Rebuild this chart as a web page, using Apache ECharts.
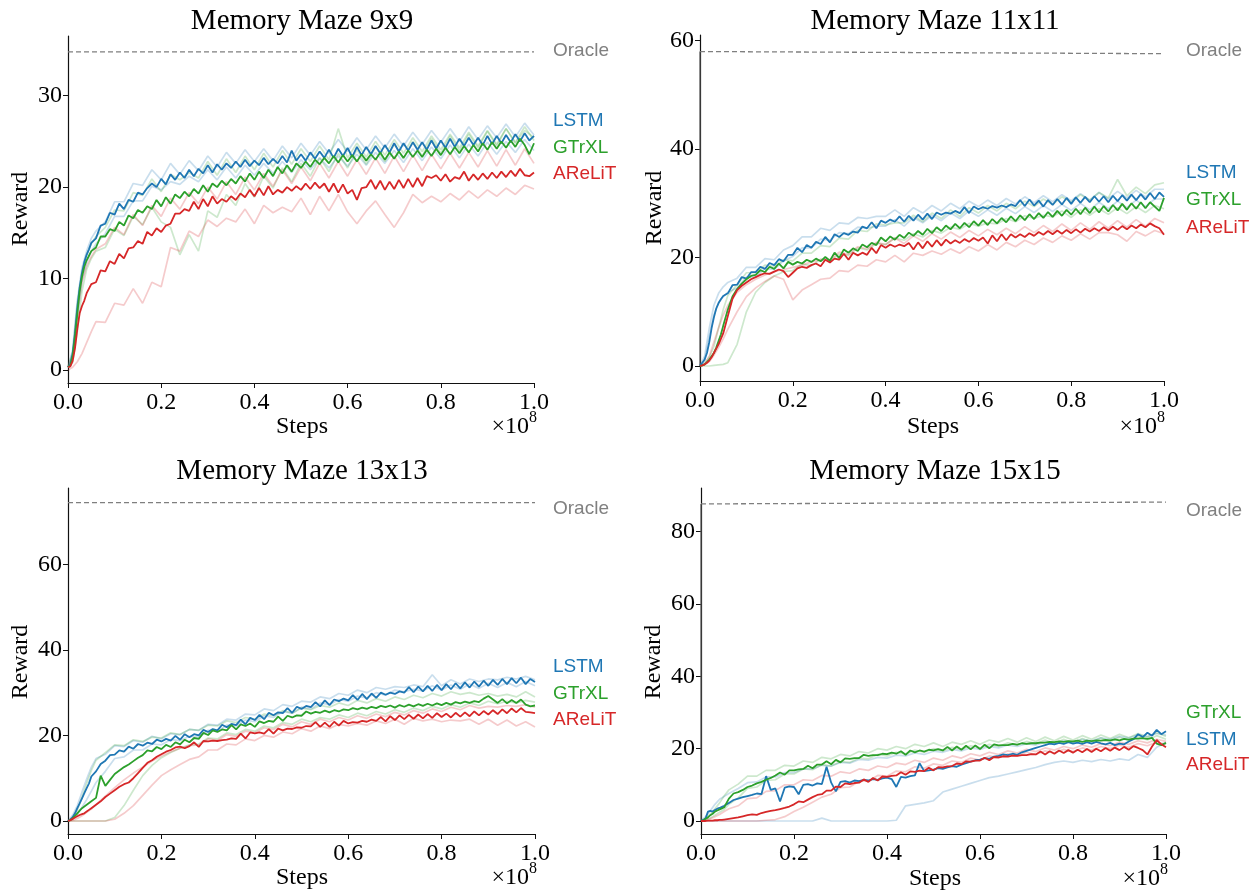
<!DOCTYPE html>
<html>
<head>
<meta charset="utf-8">
<script src="https://cdn.jsdelivr.net/npm/echarts@6.0.0/dist/echarts.min.js"></script>
<style>
html,body{margin:0;padding:0;background:#fff;}
#c{width:1253px;height:892px;}
</style>
</head>
<body>
<div id="c"></div>
<script>
// ---------- tick labels ----------
const X_TICKS = [0, 0.2, 0.4, 0.6, 0.8, 1.0];
const Y_TICKS_9 = [0, 10, 20, 30];
const Y_TICKS_11 = [0, 20, 40, 60];
const Y_TICKS_13 = [0, 20, 40, 60];
const Y_TICKS_15 = [0, 20, 40, 60, 80];
const TITLES = ["Memory Maze 9x9", "Memory Maze 11x11", "Memory Maze 13x13", "Memory Maze 15x15"];
const METHODS = ["LSTM", "GTrXL", "AReLiT"];

// ---------- x positions (steps, x1e8) ----------
const XM = [0,0.005,0.01,0.015,0.02,0.025,0.03,0.035,0.04,0.045,0.05,
0.06,0.07,0.08,0.09,0.10,0.11,0.12,0.13,0.14,0.15,
0.16,0.17,0.18,0.19,0.20,0.21,0.22,0.23,0.24,0.25,
0.26,0.27,0.28,0.29,0.30,0.31,0.32,0.33,0.34,0.35,
0.36,0.37,0.38,0.39,0.40,0.41,0.42,0.43,0.44,0.45,
0.46,0.47,0.48,0.49,0.50,0.51,0.52,0.53,0.54,0.55,
0.56,0.57,0.58,0.59,0.60,0.61,0.62,0.63,0.64,0.65,
0.66,0.67,0.68,0.69,0.70,0.71,0.72,0.73,0.74,0.75,
0.76,0.77,0.78,0.79,0.80,0.81,0.82,0.83,0.84,0.85,
0.86,0.87,0.88,0.89,0.90,0.91,0.92,0.93,0.94,0.95,
0.96,0.97,0.98,0.99,1.00];
const XF = [0,0.01,0.02,0.03,0.04,0.05,0.06,
0.08,0.10,0.12,0.14,0.16,0.18,0.20,0.22,0.24,0.26,
0.28,0.30,0.32,0.34,0.36,0.38,0.40,0.42,0.44,0.46,
0.48,0.50,0.52,0.54,0.56,0.58,0.60,0.62,0.64,0.66,
0.68,0.70,0.72,0.74,0.76,0.78,0.80,0.82,0.84,0.86,
0.88,0.90,0.92,0.94,0.96,0.98,1.00];

// ---------- Oracle ----------
const ORACLE_X = [0, 1];
const ORACLE_9 = [34.8, 34.8];
const ORACLE_11 = [58.0, 57.6];
const ORACLE_13 = [74.4, 74.4];
const ORACLE_15 = [87.7, 88.2];
const RISE_X = [0, 0];
const ORACLE_RISE_11 = [0, 58.0];
const ORACLE_RISE_15 = [0, 87.7];

// ---------- Memory Maze 9x9 ----------
const M9_LSTM = [0.3,0.6,1.8,4.0,6.8,9.0,10.6,11.8,12.6,13.2,13.9,
14.4,15.8,16.0,17.2,17.0,18.2,17.6,18.6,18.4,19.4,
19.2,19.9,20.4,20.0,20.9,20.3,21.4,20.8,21.6,21.0,
21.9,21.2,22.0,21.5,22.4,21.6,22.5,21.9,22.6,22.1,
22.8,22.2,23.0,22.3,22.9,22.4,23.2,22.5,23.1,22.6,
23.4,22.7,24.0,22.9,23.6,22.9,23.8,23.1,23.9,23.2,
24.1,23.2,24.2,23.4,24.3,23.3,24.4,23.5,24.4,23.6,
24.5,23.7,24.6,23.8,24.8,23.9,24.8,24.0,24.9,24.1,
24.9,24.1,25.1,24.2,25.1,24.3,25.3,24.4,25.3,24.5,
25.4,24.6,25.4,24.6,25.6,24.7,25.6,24.8,25.7,24.9,
25.8,25.0,25.9,25.1,25.6];
const M9_GTRXL = [0.3,0.5,1.5,3.6,6.2,8.6,10.2,11.3,12.0,12.5,13.0,
13.4,14.6,14.6,15.4,15.2,16.2,15.8,16.9,16.6,17.5,
17.2,17.9,17.6,18.6,17.9,18.9,18.2,19.2,18.8,19.5,
19.0,19.8,19.3,20.2,19.5,20.4,20.0,20.7,20.2,20.9,
20.4,21.2,20.6,21.5,20.8,21.7,21.0,21.9,21.2,22.2,
21.5,22.4,21.7,22.6,22.1,22.8,22.2,23.0,22.5,23.2,
22.6,23.4,22.7,23.5,22.8,23.5,22.8,23.6,22.9,23.6,
23.0,23.8,23.0,23.8,23.1,23.9,23.2,24.0,23.3,24.0,
23.3,24.1,23.4,24.2,23.5,24.3,23.6,24.4,23.7,24.5,
23.8,24.6,23.9,24.8,24.1,24.9,24.2,25.0,24.3,25.1,
24.4,25.3,24.6,23.6,24.8];
const M9_ARELIT = [0.3,0.4,1.0,2.4,4.5,6.2,7.0,7.6,8.4,8.9,9.4,
9.6,10.9,10.8,11.9,11.6,12.7,12.2,13.3,13.4,14.1,
13.8,15.1,14.7,15.5,15.1,15.8,16.0,17.1,17.1,17.6,
17.4,18.4,17.6,18.7,17.9,19.0,18.2,18.7,18.4,19.0,
18.6,19.3,18.9,19.7,19.0,19.9,19.1,20.1,19.2,19.7,
19.4,20.0,19.6,20.1,19.7,20.4,19.8,20.5,19.9,20.4,
19.5,20.4,19.4,20.3,19.3,19.7,18.6,19.9,20.0,20.8,
19.8,20.7,19.7,20.6,19.8,20.8,19.9,20.9,20.0,21.0,
20.1,21.2,21.0,21.3,20.7,21.4,20.6,21.1,20.9,21.7,
20.7,21.4,20.8,21.5,20.9,21.6,21.0,21.7,21.1,21.8,
21.2,22.0,21.3,21.2,21.6];
const M9_LSTM_SEEDS = [
[0.3,2.2,7.6,11.2,13.0,14.4,15.2,
16.2,18.4,18.4,20.4,20.2,21.9,20.8,22.6,21.4,22.9,
21.8,23.4,22.2,23.8,22.6,24.1,22.8,24.2,22.9,24.5,
23.2,24.8,23.5,25.0,23.7,25.2,23.9,25.4,24.1,25.6,
24.3,25.8,24.5,26.0,24.7,26.2,24.9,26.4,25.0,26.6,
25.2,26.7,25.4,26.9,25.5,27.0,25.7],
[0.3,1.4,5.8,9.8,11.8,13.0,13.8,
14.9,16.8,16.8,18.5,18.5,20.1,19.7,20.6,20.3,21.2,
20.6,21.9,20.8,22.2,21.0,22.4,21.3,22.6,21.5,22.8,
21.6,23.0,21.9,23.2,22.1,23.4,22.3,23.6,22.4,23.8,
22.6,24.0,22.7,24.2,22.9,24.4,23.1,24.6,23.2,24.7,
23.4,24.9,23.6,25.0,23.8,25.2,24.0]];
const M9_GTRXL_SEEDS = [
[0.3,2.0,7.2,10.8,12.6,13.8,14.6,
15.6,17.5,17.4,19.4,19.1,20.9,19.5,21.4,20.8,21.6,
21.0,22.8,21.3,23.1,21.6,23.4,21.9,23.7,22.2,24.0,
22.5,24.2,22.8,24.5,23.0,26.4,23.2,24.8,23.3,25.0,
23.5,25.2,23.7,25.4,23.9,25.6,24.1,25.8,24.3,26.0,
24.5,26.2,24.7,26.4,24.9,26.6,25.1],
[0.3,0.8,4.2,8.6,11.0,12.2,13.0,
13.4,15.4,14.7,16.8,15.9,17.8,16.2,15.6,12.6,14.8,
13.0,17.4,16.7,19.2,18.0,20.4,18.9,21.2,19.9,22.1,
20.6,22.6,21.2,23.2,21.7,23.7,22.1,24.1,22.5,24.4,
22.8,24.7,23.1,25.0,23.4,25.3,23.7,25.6,24.0,25.8,
24.3,26.1,24.5,26.4,24.8,26.2,25.4]];
const M9_ARELIT_SEEDS = [
[0.0,0.3,0.9,1.8,3.0,4.2,5.3,
5.2,7.3,7.1,8.9,7.3,9.6,9.1,13.4,13.0,15.2,
14.6,16.4,15.7,16.6,16.2,17.6,16.0,18.0,17.2,17.8,
17.3,18.8,17.0,19.0,17.4,19.2,17.3,16.0,17.4,18.5,
17.0,15.6,17.2,19.2,18.3,19.0,18.4,19.3,18.6,19.6,
18.8,19.7,19.0,19.9,19.2,20.2,19.8],
[0.3,1.6,6.0,9.6,11.4,12.4,13.2,
13.8,15.6,14.8,17.0,15.8,18.0,16.8,18.8,17.6,19.4,
18.2,20.0,18.7,20.6,19.2,21.1,19.7,21.5,20.1,21.9,
20.4,22.2,20.7,22.6,21.0,22.8,21.2,23.0,21.4,23.2,
21.5,23.4,21.7,23.5,21.8,23.6,22.0,23.7,22.1,23.8,
22.2,24.0,22.3,24.1,22.4,24.2,22.6]];

// ---------- Memory Maze 11x11 ----------
const M11_LSTM = [0.1,0.6,1.2,2.4,4.4,7.0,9.0,10.6,11.6,12.3,12.9,
13.4,14.9,15.0,16.4,16.1,17.3,17.3,18.3,17.9,19.0,
18.6,19.7,19.3,20.5,20.5,21.8,21.0,22.3,21.8,22.9,
22.5,23.8,22.8,24.3,23.8,24.5,24.2,24.8,24.6,25.7,
25.4,26.5,25.4,26.8,26.4,27.0,26.6,27.6,26.6,27.7,
26.8,27.9,27.0,28.1,27.1,28.3,27.9,28.3,28.1,28.6,
28.2,29.3,28.2,29.4,28.9,29.3,29.0,29.5,29.2,29.6,
29.3,29.8,29.5,30.6,29.5,30.7,29.6,30.5,29.4,30.6,
29.7,30.8,29.8,31.0,29.9,31.1,30.1,31.2,30.2,31.3,
30.3,31.3,30.2,31.4,30.4,31.5,30.5,31.6,30.6,31.7,
30.7,31.9,30.8,32.0,31.2];
const M11_GTRXL = [0,0.1,0.3,0.7,1.2,1.8,2.4,3.4,4.6,5.8,7.4,
10.4,12.8,14.2,15.2,16.0,16.6,16.8,17.7,17.3,18.3,
17.9,18.9,18.0,19.2,18.7,19.2,18.9,19.6,19.2,19.8,
19.3,20.1,19.4,20.9,19.9,21.5,20.9,21.7,21.2,22.4,
21.9,22.7,22.3,23.7,23.0,23.9,23.3,24.2,23.6,24.6,
24.0,24.9,24.2,25.3,24.5,25.6,24.9,25.9,25.2,26.2,
25.4,26.4,25.6,26.7,25.9,26.9,26.0,27.1,26.3,27.3,
26.5,27.6,26.7,27.8,26.9,28.0,27.1,28.2,27.3,28.4,
27.5,28.6,27.7,28.8,27.9,29.0,28.0,29.2,28.2,29.4,
28.3,29.5,28.5,29.7,28.7,29.9,28.8,30.0,29.0,30.2,
29.1,30.2,29.4,28.6,31.0];
const M11_ARELIT = [0,0.1,0.3,0.6,1.0,1.6,2.4,3.2,4.0,5.0,6.0,
9.2,12.4,14.0,14.8,15.4,16.0,16.4,16.8,17.1,17.0,
17.4,17.8,17.5,16.4,17.2,18.0,18.3,18.1,18.6,18.9,
18.4,19.6,19.1,19.8,19.6,20.7,19.6,20.9,20.4,20.9,
20.5,21.8,20.8,22.3,21.8,22.4,22.0,22.4,22.1,22.7,
21.5,22.8,21.7,23.0,22.0,23.2,22.2,23.3,22.6,23.2,
22.7,23.4,22.9,23.6,23.1,23.7,22.6,24.1,23.0,24.3,
23.2,24.3,23.7,24.3,23.8,24.5,24.0,24.7,24.2,24.9,
24.3,25.0,24.4,25.1,24.5,25.2,24.6,25.3,24.8,25.4,
24.9,25.6,25.0,25.7,25.1,25.8,25.2,25.9,25.4,26.1,
25.6,26.3,25.8,25.4,24.2];
const M11_LSTM_SEEDS = [
[0,1.8,7.0,11.2,13.4,14.6,15.4,
16.2,18.2,18.2,19.8,19.6,21.4,22.2,23.8,23.8,25.4,
25.0,26.4,26.2,27.4,27.2,27.6,27.6,28.8,27.6,29.2,
28.2,29.6,28.6,30.0,29.0,30.4,29.4,30.6,29.6,30.9,
29.9,31.2,30.1,31.4,30.3,31.6,30.5,31.8,30.6,32.0,
30.8,32.2,31.0,32.4,31.2,32.6,32.6],
[0,1.0,5.4,9.4,11.6,12.8,13.6,
14.4,16.4,16.4,18.0,17.8,19.4,20.2,21.8,21.8,23.4,
23.2,24.6,24.4,25.6,25.4,25.8,25.8,27.0,25.8,27.4,
26.4,27.8,26.8,28.2,27.2,28.6,27.6,28.8,27.8,29.1,
28.1,29.4,28.3,29.6,28.5,29.8,28.7,30.0,28.8,30.2,
29.0,30.4,29.2,30.6,29.4,30.8,30.8]];
const M11_GTRXL_SEEDS = [
[0,0.4,1.6,3.6,7.0,10.4,13.0,
15.0,17.2,17.2,18.6,18.4,19.6,19.4,20.8,20.8,22.2,
22.0,23.6,23.4,25.0,24.8,26.2,26.0,26.4,26.4,27.8,
26.6,28.2,27.2,28.8,27.6,29.2,28.2,29.6,28.6,30.0,
29.0,30.4,29.4,30.8,29.8,31.2,30.2,31.6,30.6,32.0,
31.0,34.4,31.4,33.0,31.8,33.4,33.8],
[0,0,0,0.1,0.2,0.3,0.6,
4.0,10.0,13.6,15.4,16.6,17.4,17.6,18.8,18.5,19.7,
19.4,20.6,20.4,21.8,21.4,22.6,22.4,23.6,23.2,24.4,
23.8,25.0,24.5,25.6,25.2,26.3,25.8,26.4,26.2,27.2,
26.6,27.7,27.2,27.8,27.5,28.6,27.4,28.8,27.8,29.0,
28.0,29.2,28.1,29.4,28.3,29.6,29.0]];
const M11_ARELIT_SEEDS = [
[0,0.2,0.8,2.0,3.4,5.0,6.8,
10.0,12.8,14.4,15.6,16.6,16.0,12.2,14.0,15.0,16.0,
16.2,17.6,17.4,18.6,18.4,19.6,19.2,20.4,19.2,20.8,
20.4,21.2,20.6,21.6,20.8,22.0,21.2,22.4,21.4,22.8,
22.0,23.2,22.4,23.6,22.8,24.0,23.2,24.4,23.4,24.6,
24.6,24.2,23.0,24.8,24.0,25.0,24.4],
[0,0.4,1.8,4.4,7.0,9.4,11.2,
13.6,15.0,16.0,16.8,17.4,17.8,18.2,18.6,19.2,19.6,
19.6,21.0,20.6,22.0,21.6,22.8,22.4,23.6,22.6,24.0,
23.0,24.4,23.4,24.7,23.7,25.0,24.0,25.2,24.2,25.4,
24.4,25.7,24.6,25.9,24.8,26.2,25.0,26.4,25.2,26.6,
25.4,26.8,25.6,27.0,25.8,27.2,26.4]];

// ---------- Memory Maze 13x13 ----------
const M13_LSTM = [0,0.3,0.9,1.8,3.0,4.1,5.3,6.5,7.7,8.8,10.4,
11.6,13.3,14.1,15.4,15.5,16.5,16.2,17.4,16.9,18.0,
17.6,18.3,18.0,19.0,18.6,19.2,18.8,19.9,19.0,20.3,
19.6,20.3,20.0,21.3,20.8,21.5,21.2,22.5,21.9,22.7,
22.4,23.7,22.6,24.1,23.6,24.8,23.8,25.3,24.7,25.4,
25.2,26.4,25.3,26.7,26.2,26.9,26.6,27.8,26.8,28.2,
27.1,28.4,28.0,28.6,28.2,29.4,28.3,29.7,28.5,29.8,
28.8,30.0,29.5,30.0,29.7,30.3,30.0,31.3,30.1,31.4,
30.3,31.6,30.4,31.8,30.6,32.0,30.8,32.2,31.0,32.4,
31.2,32.6,31.4,32.8,31.6,33.0,31.8,33.2,32.0,33.4,
32.2,33.5,32.0,33.2,32.5];
const M13_GTRXL = [0,0.2,0.6,1.2,1.8,2.4,3.0,3.4,3.8,4.2,4.6,
5.4,10.6,8.2,9.6,11.0,11.8,12.6,13.2,14.0,14.8,
15.4,16.5,16.3,17.3,16.8,17.8,17.3,18.4,17.9,19.0,
18.4,19.4,19.2,20.6,20.1,21.2,20.8,21.4,21.2,22.4,
21.4,22.6,22.2,22.8,22.0,23.3,22.9,23.4,23.2,24.4,
23.4,24.6,24.2,24.7,24.6,25.6,25.1,25.5,25.3,25.8,
25.4,25.9,25.6,26.1,25.9,26.4,26.1,26.5,26.2,26.7,
26.4,26.9,26.6,27.0,26.5,27.1,26.7,27.2,26.8,27.3,
26.9,27.4,27.0,27.5,27.1,27.6,27.2,27.8,27.5,27.9,
27.6,28.0,27.8,28.6,29.2,28.4,27.6,28.5,27.5,28.3,
27.6,28.4,27.2,26.8,27.0];
const M13_ARELIT = [0,0.2,0.5,0.8,1.1,1.4,1.6,1.8,2.2,2.6,3.0,
3.8,4.6,5.6,6.4,7.2,8.0,8.6,9.0,10.0,11.2,
12.4,13.6,14.2,15.0,15.6,16.2,16.6,17.2,17.4,17.0,
17.5,18.4,17.3,18.7,18.6,18.8,18.7,18.9,19.0,19.3,
19.2,20.4,19.3,20.7,20.5,20.7,20.4,21.5,20.4,21.6,
21.2,21.6,21.5,21.9,21.8,22.2,22.1,23.1,22.0,23.0,
22.0,23.2,22.3,23.4,22.8,23.1,23.0,23.4,23.2,23.7,
23.4,24.3,23.3,24.5,23.6,24.7,23.8,24.8,23.9,24.9,
24.0,25.0,24.1,25.2,24.3,25.1,24.2,25.3,24.4,25.4,
24.5,25.6,24.7,25.7,24.9,25.9,25.0,26.1,25.2,26.3,
25.4,26.4,25.5,25.4,25.2];
const M13_LSTM_SEEDS = [
[0,1.4,3.6,6.8,9.8,12.6,14.6,
15.6,17.6,17.4,18.8,18.4,19.8,19.2,20.4,20.2,21.4,
21.2,22.6,22.4,23.8,23.6,25.0,24.8,26.2,25.8,27.2,
26.8,28.0,27.8,29.0,28.6,29.8,29.4,30.6,30.0,31.2,
30.8,31.4,31.2,31.8,31.4,34.2,31.6,33.0,32.0,33.2,
32.6,33.2,33.0,33.6,33.2,33.8,33.0],
[0,0.6,1.6,3.2,5.0,7.0,9.0,
11.6,14.6,15.0,16.6,16.6,18.0,17.8,19.0,18.8,19.8,
19.6,21.2,21.0,22.4,22.2,23.6,23.2,24.6,24.2,25.6,
25.2,26.6,26.2,27.6,27.2,28.4,28.0,29.2,28.8,30.0,
29.4,30.6,30.2,30.8,30.4,31.6,30.6,31.8,30.8,32.0,
31.0,32.2,31.2,32.4,31.4,32.6,31.6]];
const M13_GTRXL_SEEDS = [
[0,0.8,2.6,5.6,8.8,11.8,14.2,
16.0,17.8,17.6,19.0,18.6,19.6,19.4,20.6,20.2,21.4,
21.2,22.4,22.2,23.4,23.0,24.2,23.8,25.0,24.6,25.8,
25.2,26.4,26.0,27.0,26.6,27.6,27.0,28.2,27.6,28.6,
28.0,29.0,28.4,29.4,28.8,29.8,29.2,30.2,29.6,30.0,
29.4,29.8,29.2,29.6,29.0,30.2,29.0],
[0,0,0,0,0,0,0,
0,0.8,3.6,7.2,10.6,13.0,14.8,16.0,17.0,17.8,
18.0,19.4,19.2,20.6,20.2,21.4,21.0,22.2,21.8,23.0,
22.6,23.8,23.2,24.2,23.8,24.8,24.2,25.2,24.6,25.6,
25.0,26.0,25.4,26.4,25.8,26.8,26.2,27.2,26.6,27.6,
27.0,28.0,27.4,28.0,27.6,28.2,27.8]];
const M13_ARELIT_SEEDS = [
[0,0,0,0,0,0,0,
0,0.4,1.8,3.6,6.0,8.4,10.6,12.0,13.2,14.4,
15.0,16.6,16.6,18.0,17.8,19.2,18.8,20.0,19.6,20.8,
20.4,21.6,21.0,22.2,21.6,22.6,22.2,22.8,22.4,23.4,
22.8,23.8,22.6,24.0,23.4,23.8,23.2,23.6,23.4,23.8,
22.6,23.8,22.4,23.6,22.2,23.2,22.0],
[0,0.2,0.6,1.2,2.0,2.8,3.8,
5.8,7.8,9.6,11.2,12.6,14.0,15.2,16.2,17.0,17.6,
17.8,19.2,18.8,20.2,19.8,21.0,20.6,21.8,21.4,22.6,
22.0,23.2,22.6,23.8,23.2,24.2,23.6,24.6,24.0,25.0,
24.4,25.4,24.8,25.8,25.2,26.2,25.6,26.6,26.0,27.0,
26.4,26.8,26.6,27.0,26.8,27.2,26.6]];

// ---------- Memory Maze 15x15 ----------
const M15_LSTM = [0,0.3,0.8,2.6,2.8,2.6,3.0,3.4,3.6,3.9,4.2,
5.0,5.8,6.2,6.6,6.9,7.2,7.6,7.4,12.4,8.6,
9.0,5.4,9.2,9.6,9.4,7.4,10.0,10.2,9.8,10.4,
10.2,15.0,10.6,8.2,10.8,11.0,10.6,11.2,11.0,11.4,
11.2,11.6,11.4,11.8,12.0,11.6,9.4,12.2,12.0,12.4,
12.6,16.0,13.8,14.0,14.2,14.6,14.4,14.8,15.2,15.0,
15.6,16.0,16.4,16.8,17.0,17.4,17.2,17.8,18.0,18.4,
18.2,18.6,18.3,19.0,19.4,19.8,20.2,20.6,21.0,21.4,
21.2,21.6,21.3,21.8,21.4,21.7,21.3,21.8,21.4,21.9,
21.5,21.2,21.6,21.0,21.4,21.2,22.0,22.6,24.0,23.2,
24.4,23.6,25.2,24.0,24.8];
const M15_GTRXL = [0,0.2,0.6,1.0,1.6,2.0,2.6,2.9,3.2,3.5,3.8,
6.2,7.6,8.0,8.6,9.4,9.8,10.4,10.8,11.4,11.9,
12.6,13.4,12.8,14.0,14.0,14.3,14.4,15.3,14.6,15.6,
15.6,16.5,15.7,16.9,16.2,17.3,17.2,17.4,17.4,18.3,
18.0,18.2,18.2,18.6,18.5,18.9,18.6,19.3,18.3,19.5,
19.0,19.5,19.2,19.7,19.5,19.9,19.5,20.5,19.5,20.6,
19.7,20.8,19.8,20.9,19.9,21.1,20.1,21.2,20.9,21.0,
21.0,21.3,21.1,21.5,21.3,21.5,21.5,21.7,21.7,21.9,
21.8,22.0,21.9,22.1,22.0,22.2,21.9,22.2,22.1,22.3,
22.2,22.4,22.3,22.6,22.3,22.7,22.5,22.8,22.8,22.9,
22.7,23.0,21.4,21.0,21.6];
const M15_ARELIT = [0,0,0,0.1,0.1,0.1,0.2,0.2,0.3,0.3,0.4,
0.6,0.8,1.0,1.3,1.6,1.8,1.7,2.2,2.5,2.8,
3.0,3.3,3.6,4.0,4.6,5.4,5.2,5.9,6.6,7.2,
7.4,8.4,8.4,9.5,9.4,10.4,10.2,10.5,10.6,11.5,
10.8,11.9,11.2,12.3,12.2,12.5,12.6,13.5,12.8,13.7,
13.6,13.9,13.8,14.7,14.0,14.9,14.8,15.1,15.2,15.9,
15.7,16.5,16.4,16.7,16.7,17.5,16.8,17.7,17.6,17.9,
17.8,18.1,18.0,18.2,18.2,18.5,18.4,19.2,18.4,19.3,
18.6,19.5,18.8,19.6,18.9,19.7,19.0,19.9,19.1,20.0,
19.3,20.2,19.4,20.3,19.6,20.5,19.7,20.7,20.2,19.6,
18.4,20.6,22.4,21.2,20.4];
const M15_LSTM_SEEDS = [
[0,0,0,0,0,0,0,
0,0,0,0,0,0,0,0,0,0.8,
0,0,0,0,0,0,0,0.2,4.2,4.6,
5.0,5.6,8.0,8.8,9.6,10.4,11.2,12.0,12.4,13.0,
13.6,14.2,14.8,15.6,16.2,16.6,16.2,16.8,16.4,17.0,
16.6,17.2,16.8,18.4,17.6,20.4,21.8],
[0,1.2,2.8,4.6,6.0,6.8,7.6,
9.0,10.6,10.8,12.2,12.2,13.4,13.4,14.4,14.4,15.4,
15.2,16.2,16.0,17.0,16.8,17.6,17.4,18.2,18.0,18.8,
18.4,19.3,19.0,19.8,19.4,20.2,19.8,20.6,20.2,21.0,
20.6,21.4,21.0,21.8,21.4,22.2,21.8,22.6,22.2,23.0,
22.6,23.4,23.0,23.8,23.4,24.2,23.8]];
const M15_GTRXL_SEEDS = [
[0,0.6,1.8,3.4,5.0,7.0,8.6,
10.2,12.4,12.4,14.0,14.0,15.4,15.2,16.6,16.2,17.6,
17.2,18.4,18.0,19.2,18.8,20.0,19.6,20.6,20.0,21.2,
20.6,21.6,20.6,21.8,21.2,22.2,21.2,22.4,21.8,22.8,
21.8,23.0,22.0,23.2,22.2,23.4,22.4,23.6,22.6,23.8,
22.8,24.0,23.0,24.2,23.2,24.4,23.4],
[0,0.2,0.8,1.6,2.4,3.2,4.6,
6.4,9.0,9.4,11.2,11.4,13.0,13.0,14.4,14.2,15.6,
15.2,16.4,16.2,17.4,17.2,18.4,18.0,19.0,18.6,19.6,
19.0,20.0,19.4,20.4,19.8,20.8,20.2,21.2,20.6,21.6,
21.0,22.0,21.4,22.4,21.4,22.6,21.6,22.8,21.8,23.0,
22.0,23.2,22.2,23.4,22.4,23.6,22.6]];
const M15_ARELIT_SEEDS = [
[0,0.2,0.6,1.2,1.8,2.6,3.4,
4.2,6.2,6.4,8.2,8.4,10.0,10.0,11.4,11.2,12.6,
12.4,13.6,13.2,14.4,14.0,15.2,14.8,16.0,15.6,16.8,
16.2,17.4,16.8,18.0,17.4,18.6,18.0,19.0,18.4,19.4,
18.8,19.8,19.2,20.2,19.6,20.6,20.0,21.0,20.4,21.4,
20.8,21.8,21.2,22.2,21.6,22.6,22.0],
[0,0,0,0,0,0,0,
0,0,0,0.2,0.4,1.2,2.6,3.8,5.2,6.6,
7.4,9.2,9.4,11.0,11.0,12.6,12.4,13.8,13.6,15.0,
14.6,15.8,15.4,16.6,16.2,17.4,16.8,18.0,17.4,18.6,
18.0,19.0,18.4,19.4,18.8,19.8,19.2,20.2,19.6,20.6,
20.0,21.0,20.4,21.4,20.8,21.8,21.2]];

// ---------- layout / styles ----------
const COLORS = {LSTM: '#1f77b4', GTrXL: '#2ca02c', AReLiT: '#d62728'};
const SERIF = '"Liberation Serif", "DejaVu Serif", serif';
const SANS = '"Liberation Sans", "DejaVu Sans", sans-serif';

const PANELS = [
  {grid:{left:68, top:36, width:466, height:347}, y:[-1.42, 36.53], yt:Y_TICKS_9,
   oracle:ORACLE_9, rise:null,
   main:[M9_LSTM, M9_GTRXL, M9_ARELIT], seeds:[M9_LSTM_SEEDS, M9_GTRXL_SEEDS, M9_ARELIT_SEEDS],
   title:[302, 21], steps:[302, 427], reward:[21, 209], exp:[537, 427],
   lab:[553, [51, 121, 148, 174], ["LSTM","GTrXL","AReLiT"]]},
  {grid:{left:700, top:35, width:464, height:346}, y:[-2.77, 61.05], yt:Y_TICKS_11,
   oracle:ORACLE_11, rise:ORACLE_RISE_11,
   main:[M11_LSTM, M11_GTRXL, M11_ARELIT], seeds:[M11_LSTM_SEEDS, M11_GTRXL_SEEDS, M11_ARELIT_SEEDS],
   title:[935, 21], steps:[933, 427], reward:[655, 208], exp:[1165, 427],
   lab:[1186, [51, 173, 200, 228], ["LSTM","GTrXL","AReLiT"]]},
  {grid:{left:68, top:488, width:467, height:346}, y:[-3.04, 77.84], yt:Y_TICKS_13,
   oracle:ORACLE_13, rise:null,
   main:[M13_LSTM, M13_GTRXL, M13_ARELIT], seeds:[M13_LSTM_SEEDS, M13_GTRXL_SEEDS, M13_ARELIT_SEEDS],
   title:[302, 471], steps:[302, 878], reward:[21, 662], exp:[537, 878],
   lab:[553, [509, 667, 694, 720], ["LSTM","GTrXL","AReLiT"]]},
  {grid:{left:701, top:488, width:465, height:346}, y:[-3.6, 92.1], yt:Y_TICKS_15,
   oracle:ORACLE_15, rise:ORACLE_RISE_15,
   main:[M15_LSTM, M15_GTRXL, M15_ARELIT], seeds:[M15_LSTM_SEEDS, M15_GTRXL_SEEDS, M15_ARELIT_SEEDS],
   title:[935, 471], steps:[935, 879], reward:[654, 662], exp:[1168, 879],
   lab:[1186, [511, 740, 713, 765], ["LSTM","GTrXL","AReLiT"]]}
];

function pairs(xs, ys){
  const out = [];
  for (let i = 0; i < xs.length && i < ys.length; i++) out.push([xs[i], ys[i]]);
  return out;
}
function txt(x, y, text, font, fill, align, extra){
  return Object.assign({type:'text', x:x, y:y, silent:true,
    style:{text:text, fill:fill, font:font, align:align, verticalAlign:'middle',
      textAlign:align, textVerticalAlign:'middle'}}, extra || {});
}

const grid = [], xAxis = [], yAxis = [], series = [], graphic = [];
PANELS.forEach((p, i) => {
  grid.push(Object.assign({containLabel:false}, p.grid));
  xAxis.push({
    type:'value', gridIndex:i, min:0, max:1,
    axisLine:{show:true, onZero:false, lineStyle:{color:'#111', width:1.2}},
    axisTick:{show:true, inside:false, length:5, customValues:X_TICKS, lineStyle:{color:'#111', width:1}},
    axisLabel:{show:true, customValues:X_TICKS, formatter:(v)=>Number(v).toFixed(1),
      fontFamily:SERIF, fontSize:24, color:'#000', margin:8},
    splitLine:{show:false}
  });
  yAxis.push({
    type:'value', gridIndex:i, min:p.y[0], max:p.y[1],
    axisLine:{show:true, onZero:false, lineStyle:{color:'#111', width:1.2}},
    axisTick:{show:true, inside:false, length:5, customValues:p.yt, lineStyle:{color:'#111', width:1}},
    axisLabel:{show:true, customValues:p.yt, formatter:(v)=>String(Math.round(v)),
      fontFamily:SERIF, fontSize:24, color:'#000', margin:6},
    splitLine:{show:false}
  });
  // faint per-seed runs
  p.seeds.forEach((seedList, m) => {
    seedList.forEach((s) => {
      series.push({type:'line', xAxisIndex:i, yAxisIndex:i, data:pairs(XF, s),
        symbol:'none', silent:true, z:1,
        lineStyle:{color:COLORS[METHODS[m]], width:1.7, opacity:0.24}});
    });
  });
  // oracle
  series.push({type:'line', xAxisIndex:i, yAxisIndex:i, data:pairs(ORACLE_X, p.oracle),
    symbol:'none', silent:true, z:2,
    lineStyle:{color:'#7f7f7f', width:1.3, type:[5,3]}});
  if (p.rise) {
    series.push({type:'line', xAxisIndex:i, yAxisIndex:i, data:pairs(RISE_X, p.rise),
      symbol:'none', silent:true, z:2,
      lineStyle:{color:'#555', width:1.2}});
  }
  // mean curves
  p.main.forEach((s, m) => {
    series.push({type:'line', xAxisIndex:i, yAxisIndex:i, data:pairs(XM, s),
      symbol:'none', silent:true, z:3 + m,
      lineStyle:{color:COLORS[METHODS[m]], width:1.8}});
  });
  // texts
  graphic.push(txt(p.title[0], p.title[1], TITLES[i], '29px ' + SERIF, '#000', 'center'));
  graphic.push(txt(p.steps[0], p.steps[1], 'Steps', '24px ' + SERIF, '#000', 'center'));
  graphic.push(txt(p.reward[0], p.reward[1], 'Reward', '24px ' + SERIF, '#000', 'center', {rotation:Math.PI/2}));
  graphic.push(txt(p.exp[0] - 8, p.exp[1], '×10', '24px ' + SERIF, '#000', 'right'));
  graphic.push(txt(p.exp[0] - 8, p.exp[1] - 9, '8', '16px ' + SERIF, '#000', 'left'));
  graphic.push(txt(p.lab[0], p.lab[1][0], 'Oracle', '19px ' + SANS, '#808080', 'left'));
  p.lab[2].forEach((name, k) => {
    graphic.push(txt(p.lab[0], p.lab[1][k + 1], name, '19px ' + SANS, COLORS[name], 'left'));
  });
});

const chart = echarts.init(document.getElementById('c'), null, {renderer:'canvas', width:1253, height:892});
chart.setOption({
  animation:false,
  backgroundColor:'#ffffff',
  grid, xAxis, yAxis, series, graphic
});
</script>
</body>
</html>
